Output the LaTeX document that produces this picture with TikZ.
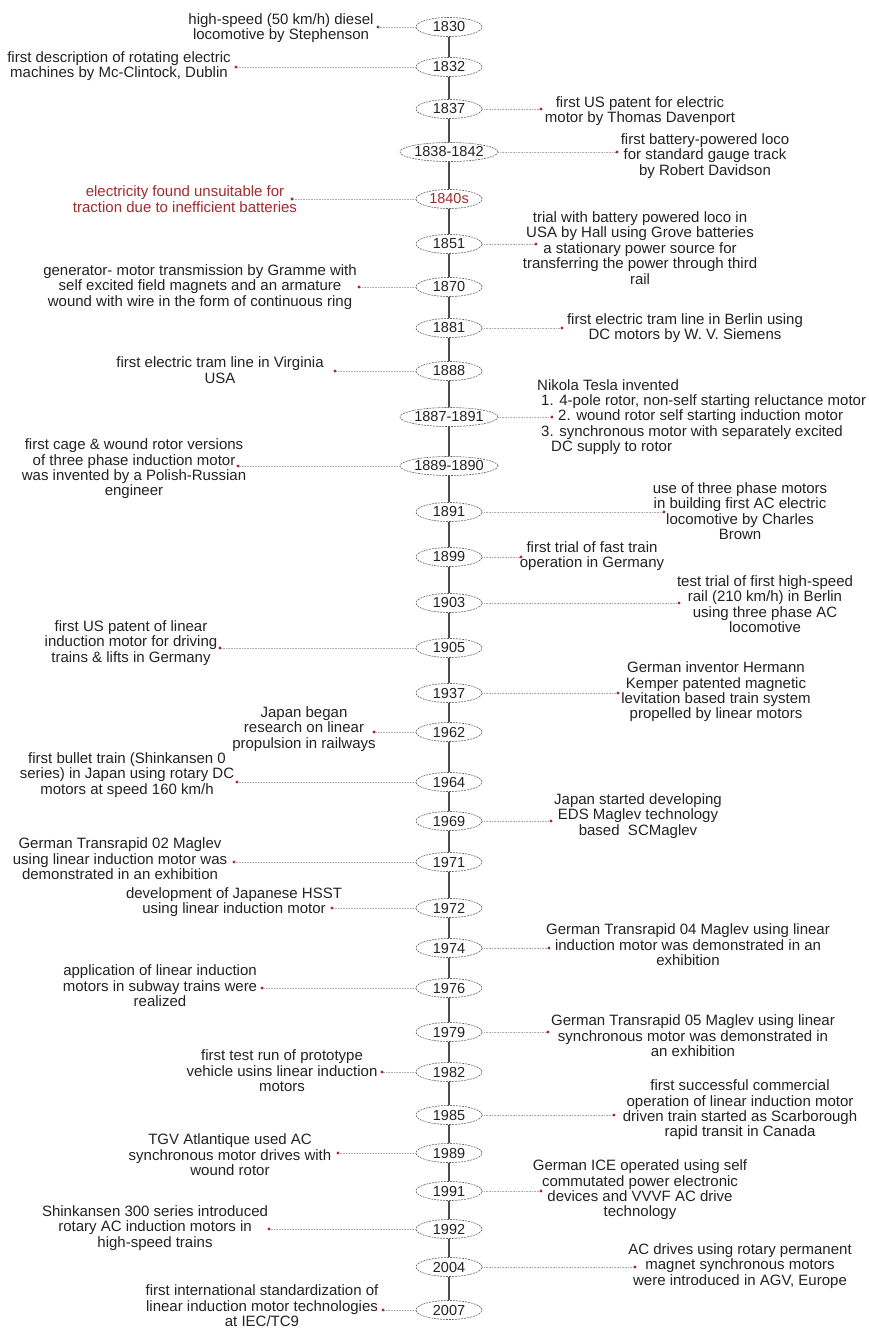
\documentclass[tikz,border=0pt]{standalone}
\usepackage{fontspec}
\setmainfont{Liberation Sans}
\usetikzlibrary{shapes.geometric}
\definecolor{dotred}{HTML}{A32A2E}
\definecolor{txt}{HTML}{222222}
\begin{document}
\begin{tikzpicture}[x=1pt,y=-1pt,
  yr/.style={ellipse, draw=gray!75!black, dash pattern=on 2pt off 1pt, line width=0.6pt,
    minimum width=66pt, minimum height=19pt, inner sep=0pt,
    font=\fontsize{14.5}{15}\selectfont, text=txt, fill=white},
  wide/.style={yr, minimum width=92pt},
  ev/.style={align=center, inner sep=0pt, font=\fontsize{15}{15.4}\selectfont, text=txt},
  conn/.style={draw=gray!65, line width=0.6pt, dash pattern=on 1pt off 0.6pt},
  spine/.style={draw=black!70, line width=1.4pt},
  reddot/.style={fill=dotred}
]
\useasboundingbox (0,0) rectangle (869,1330);

% year nodes
\node[yr]   (n1)  at (449,27)   {1830};
\node[yr]   (n2)  at (449,67)   {1832};
\node[yr]   (n3)  at (449,109)  {1837};
\node[wide] (n4)  at (449,152)  {1838-1842};
\node[yr, text=dotred] (n5) at (449,199) {1840s};
\node[yr]   (n6)  at (449,244)  {1851};
\node[yr]   (n7)  at (449,287)  {1870};
\node[yr]   (n8)  at (449,328)  {1881};
\node[yr]   (n9)  at (449,371)  {1888};
\node[wide] (n10) at (449,417)  {1887-1891};
\node[wide] (n11) at (449,466)  {1889-1890};
\node[yr]   (n12) at (449,512)  {1891};
\node[yr]   (n13) at (449,557)  {1899};
\node[yr]   (n14) at (449,603)  {1903};
\node[yr]   (n15) at (449,648)  {1905};
\node[yr]   (n16) at (449,693)  {1937};
\node[yr]   (n17) at (449,732)  {1962};
\node[yr]   (n18) at (449,782)  {1964};
\node[yr]   (n19) at (449,821)  {1969};
\node[yr]   (n20) at (449,862)  {1971};
\node[yr]   (n21) at (449,908)  {1972};
\node[yr]   (n22) at (449,948)  {1974};
\node[yr]   (n23) at (449,988)  {1976};
\node[yr]   (n24) at (449,1032) {1979};
\node[yr]   (n25) at (449,1072) {1982};
\node[yr]   (n26) at (449,1115) {1985};
\node[yr]   (n27) at (449,1153) {1989};
\node[yr]   (n28) at (449,1191) {1991};
\node[yr]   (n29) at (449,1229) {1992};
\node[yr]   (n30) at (449,1267) {2004};
\node[yr]   (n31) at (449,1310) {2007};

% spine
\foreach \i [evaluate=\i as \j using int(\i+1)] in {1,...,30}
  {\draw[spine] (n\i.south) -- (n\j.north);}

% event texts
\node[ev] (t1)  at (281,28)   {high-speed (50 km/h) diesel\\locomotive by Stephenson};
\node[ev] (t2)  at (119,66)   {first description of rotating electric\\machines by Mc-Clintock, Dublin};
\node[ev] (t3)  at (640,111)  {first US patent for electric\\motor by Thomas Davenport};
\node[ev] (t4)  at (705,156)  {first battery-powered loco\\for standard gauge track\\by Robert Davidson};
\node[ev, text=dotred] (t5) at (185,199) {electricity found unsuitable for\\traction due to inefficient batteries};
\node[ev] (t6)  at (640,248)  {trial with battery powered loco in\\USA by Hall using Grove batteries\\a stationary power source for\\transferring the power through third\\rail};
\node[ev] (t7)  at (200,287)  {generator- motor transmission by Gramme with\\self excited field magnets and an armature\\wound with wire in the form of continuous ring};
\node[ev] (t8)  at (685,328)  {first electric tram line in Berlin using\\DC motors by W. V. Siemens};
\node[ev] (t9)  at (220,370)  {first electric tram line in Virginia\\USA};
\node[ev, align=left, anchor=west] (t10) at (537,417) {Nikola Tesla invented\\\hspace*{4pt}1. 4-pole rotor, non-self starting reluctance motor\\\hspace*{21pt}2. wound rotor self starting induction motor\\\hspace*{4pt}3. synchronous motor with separately excited\\\hspace*{14pt}DC supply to rotor};
\node[ev] (t11) at (134,469)  {first cage \& wound rotor versions\\of three phase induction motor\\was invented by a Polish-Russian\\engineer};
\node[ev] (t12) at (740,511)  {use of three phase motors\\in building first AC electric\\locomotive by Charles\\Brown};
\node[ev] (t13) at (592,556)  {first trial of fast train\\operation in Germany};
\node[ev] (t14) at (765,604)  {test trial of first high-speed\\rail (210 km/h) in Berlin\\using three phase AC\\locomotive};
\node[ev] (t15) at (131,643)  {first US patent of linear\\induction motor for driving\\trains \& lifts in Germany};
\node[ev] (t16) at (716,692)  {German inventor Hermann\\Kemper patented magnetic\\levitation based train system\\propelled by linear motors};
\node[ev] (t17) at (304,729)  {Japan began\\research on linear\\propulsion in railways};
\node[ev] (t18) at (127,775)  {first bullet train (Shinkansen 0\\series) in Japan using rotary DC\\motors at speed 160 km/h};
\node[ev] (t19) at (638,816)  {Japan started developing\\EDS Maglev technology\\based\ \ SCMaglev};
\node[ev] (t20) at (120,859)  {German Transrapid 02 Maglev\\using linear induction motor was\\demonstrated in an exhibition};
\node[ev] (t21) at (234,902)  {development of Japanese HSST\\using linear induction motor};
\node[ev] (t22) at (688,945)  {German Transrapid 04 Maglev using linear\\induction motor was demonstrated in an\\exhibition};
\node[ev] (t23) at (160,986)  {application of linear induction\\motors in subway trains were\\realized};
\node[ev] (t24) at (693,1036) {German Transrapid 05 Maglev using linear\\synchronous motor was demonstrated in\\an exhibition};
\node[ev] (t25) at (282,1071) {first test run of prototype\\vehicle usins linear induction\\motors};
\node[ev] (t26) at (740,1110) {first successful commercial\\operation of linear induction motor\\driven train started as Scarborough\\rapid transit in Canada};
\node[ev] (t27) at (230,1155) {TGV Atlantique used AC\\synchronous motor drives with\\wound rotor};
\node[ev] (t28) at (640,1190) {German ICE operated using self\\commutated power electronic\\devices and VVVF AC drive\\technology};
\node[ev] (t29) at (155,1228) {Shinkansen 300 series introduced\\rotary AC induction motors in\\high-speed trains};
\node[ev] (t30) at (740,1266) {AC drives using rotary permanent\\magnet synchronous motors\\were introduced in AGV, Europe};
\node[ev] (t31) at (262,1306) {first international standardization of\\linear induction motor technologies\\at IEC/TC9};

% dots
\foreach \k/\x in {1/378,2/236,3/541,4/617,5/292,6/536,7/359,8/562,9/335,10/552,11/238,12/664,13/521,14/679,15/220,16/618,17/374,18/237,19/551,20/234,21/332,22/549,23/262,24/548,25/382,26/614,27/338,28/541,29/269,30/635,31/383}
  {\coordinate (d\k) at (\x,0 |- n\k.center);}

% connectors
\foreach \k in {1,2,5,7,9,11,15,17,18,20,21,23,25,27,29,31}
  {\draw[conn] (n\k.west) -- (d\k); \fill[reddot] (d\k) circle[radius=1.6pt];}
\foreach \k in {3,4,6,8,10,12,13,14,16,19,22,24,26,28,30}
  {\draw[conn] (n\k.east) -- (d\k); \fill[reddot] (d\k) circle[radius=1.6pt];}
\end{tikzpicture}
\end{document}
